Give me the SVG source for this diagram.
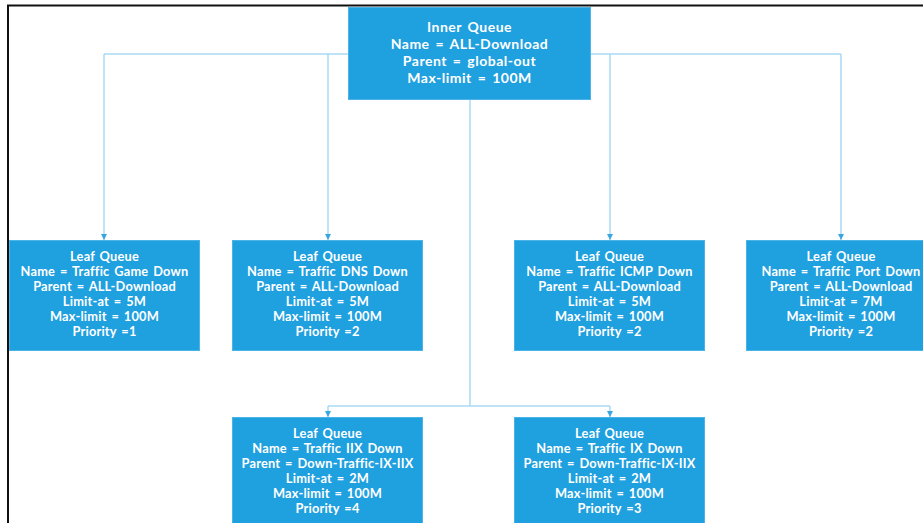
<svg xmlns="http://www.w3.org/2000/svg" width="923" height="523" viewBox="0 0 923 523">
  <defs>
    <marker id="arrow" viewBox="0 0 6 6" refX="6" refY="3" markerWidth="6" markerHeight="6" markerUnits="userSpaceOnUse" orient="auto">
      <path d="M0,0 L6,3 L0,6 Z" fill="#3aa6e0"/>
    </marker>
    <style>
      .frame { fill: none; stroke: #111; stroke-width: 2; }
      .box { fill: #1fa0df; stroke: #4cb3e8; stroke-width: 1; }
      .label { fill: #fff; font-family: Lato, "Open Sans", "Liberation Sans", sans-serif; font-weight: bold; text-anchor: middle; }
      .root .label { font-size: 14px; letter-spacing: 0.5px; word-spacing: 2px; }
      .leaf .label { font-size: 12.8px; letter-spacing: 0.2px; word-spacing: 1.5px; }
      .link { fill: none; stroke: #a9d8f3; stroke-width: 1.5; }
      .drop { fill: none; stroke: #a9d8f3; stroke-width: 1.5; marker-end: url(#arrow); }
    </style>
  </defs>

  <rect width="923" height="523" fill="#fff"/>
  <!-- page frame (top and left edges) -->
  <path class="frame" d="M8,523 L8,5.5 L923,5.5"/>

  <!-- connectors -->
  <g id="connectors">
    <path class="link" d="M104,54 L841,54"/>
    <path class="drop" d="M104,54 L104,240"/>
    <path class="drop" d="M328,54 L328,240"/>
    <path class="drop" d="M610,54 L610,240"/>
    <path class="drop" d="M841,54 L841,240"/>
    <path class="link" d="M470,100 L470,406"/>
    <path class="link" d="M328,406 L610,406"/>
    <path class="drop" d="M328,406 L328,417"/>
    <path class="drop" d="M610,406 L610,417"/>
  </g>

  <!-- root queue -->
  <g id="inner-queue" class="root">
    <rect class="box" x="348.5" y="7.5" width="242" height="92"/>
    <text class="label" x="469.5" y="32">Inner Queue</text>
    <text class="label" x="469.5" y="49">Name = ALL-Download</text>
    <text class="label" x="469.5" y="66">Parent = global-out</text>
    <text class="label" x="469.5" y="83">Max-limit = 100M</text>
  </g>

  <g id="leaf-game" class="leaf">
    <rect class="box" x="9.5" y="240.5" width="190" height="110"/>
    <text class="label" x="104.5" y="261">Leaf Queue</text>
    <text class="label" x="104.5" y="276">Name = Traffic Game Down</text>
    <text class="label" x="104.5" y="291">Parent = ALL-Download</text>
    <text class="label" x="104.5" y="306">Limit-at = 5M</text>
    <text class="label" x="104.5" y="321">Max-limit = 100M</text>
    <text class="label" x="104.5" y="336">Priority =1</text>
  </g>

  <g id="leaf-dns" class="leaf">
    <rect class="box" x="232.5" y="240.5" width="190" height="110"/>
    <text class="label" x="327.5" y="261">Leaf Queue</text>
    <text class="label" x="327.5" y="276">Name = Traffic DNS Down</text>
    <text class="label" x="327.5" y="291">Parent = ALL-Download</text>
    <text class="label" x="327.5" y="306">Limit-at = 5M</text>
    <text class="label" x="327.5" y="321">Max-limit = 100M</text>
    <text class="label" x="327.5" y="336">Priority =2</text>
  </g>

  <g id="leaf-icmp" class="leaf">
    <rect class="box" x="514.5" y="240.5" width="190" height="110"/>
    <text class="label" x="609.5" y="261">Leaf Queue</text>
    <text class="label" x="609.5" y="276">Name = Traffic ICMP Down</text>
    <text class="label" x="609.5" y="291">Parent = ALL-Download</text>
    <text class="label" x="609.5" y="306">Limit-at = 5M</text>
    <text class="label" x="609.5" y="321">Max-limit = 100M</text>
    <text class="label" x="609.5" y="336">Priority =2</text>
  </g>

  <g id="leaf-port" class="leaf">
    <rect class="box" x="746.5" y="240.5" width="190" height="110"/>
    <text class="label" x="841" y="261">Leaf Queue</text>
    <text class="label" x="841" y="276">Name = Traffic Port Down</text>
    <text class="label" x="841" y="291">Parent = ALL-Download</text>
    <text class="label" x="841" y="306">Limit-at = 7M</text>
    <text class="label" x="841" y="321">Max-limit = 100M</text>
    <text class="label" x="841" y="336">Priority =2</text>
  </g>

  <g id="leaf-iix" class="leaf">
    <rect class="box" x="232.5" y="417.5" width="190" height="110"/>
    <text class="label" x="327.5" y="438">Leaf Queue</text>
    <text class="label" x="327.5" y="453">Name = Traffic IIX Down</text>
    <text class="label" x="327.5" y="468">Parent = Down-Traffic-IX-IIX</text>
    <text class="label" x="327.5" y="483">Limit-at = 2M</text>
    <text class="label" x="327.5" y="498">Max-limit = 100M</text>
    <text class="label" x="327.5" y="513">Priority =4</text>
  </g>

  <g id="leaf-ix" class="leaf">
    <rect class="box" x="514.5" y="417.5" width="190" height="110"/>
    <text class="label" x="609.5" y="438">Leaf Queue</text>
    <text class="label" x="609.5" y="453">Name = Traffic IX Down</text>
    <text class="label" x="609.5" y="468">Parent = Down-Traffic-IX-IIX</text>
    <text class="label" x="609.5" y="483">Limit-at = 2M</text>
    <text class="label" x="609.5" y="498">Max-limit = 100M</text>
    <text class="label" x="609.5" y="513">Priority =3</text>
  </g>
</svg>
